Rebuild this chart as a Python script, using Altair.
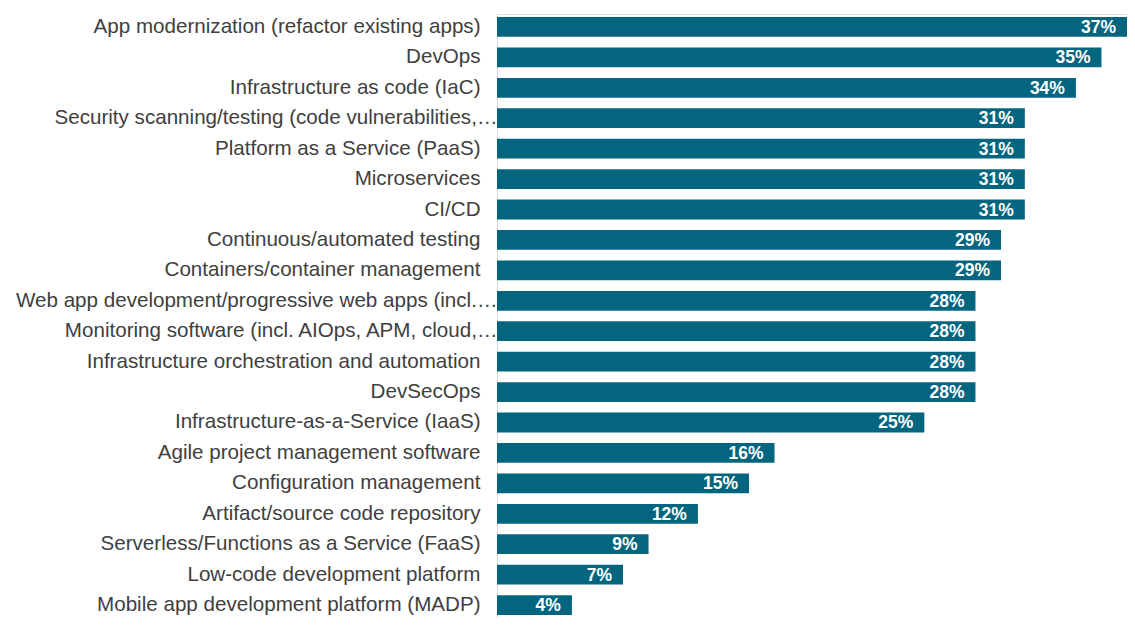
import altair as alt
import pandas as pd

categories = [
    "App modernization (refactor existing apps)",
    "DevOps",
    "Infrastructure as code (IaC)",
    "Security scanning/testing (code vulnerabilities,…",
    "Platform as a Service (PaaS)",
    "Microservices",
    "CI/CD",
    "Continuous/automated testing",
    "Containers/container management",
    "Web app development/progressive web apps (incl.…",
    "Monitoring software (incl. AIOps, APM, cloud,…",
    "Infrastructure orchestration and automation",
    "DevSecOps",
    "Infrastructure-as-a-Service (IaaS)",
    "Agile project management software",
    "Configuration management",
    "Artifact/source code repository",
    "Serverless/Functions as a Service (FaaS)",
    "Low-code development platform",
    "Mobile app development platform (MADP)",
]
values = [37.0, 35.5, 34.0, 31.0, 31.0, 31.0, 31.0, 29.6, 29.6, 28.1,
          28.1, 28.1, 28.1, 25.1, 16.3, 14.8, 11.8, 8.9, 7.4, 4.4]
value_labels = ["37%", "35%", "34%", "31%", "31%", "31%", "31%", "29%", "29%", "28%",
                "28%", "28%", "28%", "25%", "16%", "15%", "12%", "9%", "7%", "4%"]

df = pd.DataFrame({"cat": categories, "val": values, "lab": value_labels})

FONT = "Liberation Sans"
BAR = "#04657F"

y = alt.Y(
    "cat:N",
    sort=categories,
    title=None,
    scale=alt.Scale(paddingInner=0.35, paddingOuter=0.1),
    axis=alt.Axis(
        labelFont=FONT,
        labelFontSize=20.6,
        labelColor="#404040",
        labelLimit=600,
        labelPadding={"condition": {"test": "indexof(datum.value, '…') >= 0", "value": 0}, "value": 17},
        ticks=False,
        domainColor="#d9d9d9",
        domainWidth=1,
        grid=False,
    ),
)
x = alt.X(
    "val:Q",
    title=None,
    scale=alt.Scale(domain=[0, 37], nice=False, zero=True),
    axis=None,
)

bars = alt.Chart(df).mark_bar(color=BAR).encode(x=x, y=y)
texts = alt.Chart(df).mark_text(
    align="right", baseline="middle", dx=-11, dy=1,
    color="white", font=FONT, fontSize=17.5, fontWeight="bold",
).encode(x=x, y=y, text="lab:N")

chart = (bars + texts).properties(
    width=630,
    height=604,
    autosize=alt.AutoSizeParams(type="none"),
    padding={"left": 489, "top": 6, "right": 0, "bottom": 0},
).configure_view(stroke=None).configure(background="white")

chart.save("out.html", embed_options={"renderer": "svg", "actions": False})
